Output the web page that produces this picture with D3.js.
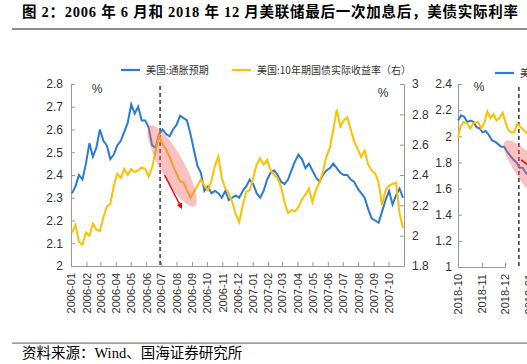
<!DOCTYPE html>
<html>
<head>
<meta charset="utf-8">
<script src="https://cdn.jsdelivr.net/npm/d3@7"></script>
<style>
body { margin: 0; background: #fff; }
svg { display: block; }
</style>
</head>
<body>
<svg width="527" height="364"></svg>
<script>
// ---- data: 2006 episode (weekly readings) ----
const start06 = "2006-01-03";
const inflExp06 = [
  2.32,2.35,2.40,2.38,2.45,2.54,2.48,2.52,2.60,2.55,
  2.53,2.47,2.49,2.53,2.55,2.59,2.63,2.71,2.67,2.70,
  2.64,2.64,2.61,2.53,2.52,2.58,2.60,2.58,2.57,2.60,
  2.62,2.66,2.65,2.64,2.58,2.51,2.44,2.41,2.33,2.35,
  2.32,2.33,2.32,2.30,2.33,2.29,2.30,2.31,2.30,2.33,
  2.35,2.38,2.36,2.32,2.30,2.33,2.38,2.41,2.42,2.40,
  2.37,2.36,2.38,2.42,2.46,2.49,2.47,2.43,2.45,2.42,
  2.39,2.37,2.40,2.42,2.43,2.45,2.43,2.41,2.40,2.40,
  2.38,2.37,2.34,2.32,2.30,2.25,2.21,2.20,2.19,2.24,
  2.29,2.33,2.27,2.31,2.34,2.30
];
const realYield06 = [
  2.02,2.07,1.96,1.94,2.02,2.00,2.08,2.04,2.03,2.12,
  2.19,2.21,2.33,2.41,2.38,2.44,2.40,2.44,2.42,2.43,
  2.45,2.44,2.39,2.45,2.56,2.66,2.60,2.57,2.52,2.46,
  2.41,2.36,2.35,2.30,2.25,2.29,2.33,2.37,2.33,2.30,
  2.36,2.46,2.52,2.38,2.31,2.28,2.22,2.14,2.09,2.20,
  2.29,2.30,2.38,2.47,2.51,2.47,2.50,2.43,2.40,2.38,
  2.32,2.22,2.15,2.17,2.16,2.19,2.24,2.27,2.31,2.22,
  2.30,2.35,2.42,2.52,2.58,2.70,2.83,2.72,2.76,2.78,
  2.70,2.62,2.57,2.52,2.56,2.47,2.43,2.41,2.35,2.20,
  2.30,2.33,2.34,2.35,2.15,2.05
];
const months06 = ["2006-01","2006-02","2006-03","2006-04","2006-05","2006-06","2006-07","2006-08",
  "2006-09","2006-10","2006-11","2006-12","2007-01","2007-02","2007-03","2007-04","2007-05",
  "2007-06","2007-07","2007-08","2007-09","2007-10"];
const leftTicks06 = [2, 2.1, 2.2, 2.3, 2.4, 2.5, 2.6, 2.7, 2.8];
const rightTicks06 = [1.8, 2, 2.2, 2.4, 2.6, 2.8, 3];
const lastHike06 = "2006-06-29";

// ---- data: 2018 episode ----
const infDates18 = ["2018-10-01","2018-10-05","2018-10-09","2018-10-13","2018-10-17","2018-10-21",
  "2018-10-25","2018-10-29","2018-11-02","2018-11-06","2018-11-10","2018-11-14","2018-11-18",
  "2018-11-22","2018-11-26","2018-11-30","2018-12-04","2018-12-08","2018-12-12","2018-12-16",
  "2018-12-20","2018-12-24","2018-12-28","2019-01-01","2019-01-05"];
const inflExp18 = [2.12,2.16,2.15,2.11,2.12,2.11,2.07,2.06,2.03,2.04,2.01,1.97,1.96,
  1.94,1.92,1.92,1.88,1.85,1.82,1.80,1.76,1.76,1.72,1.70,1.68];
const realDates18 = ["2018-10-01","2018-10-04","2018-10-08","2018-10-13","2018-10-17","2018-10-21",
  "2018-10-27","2018-10-31","2018-11-04","2018-11-08","2018-11-12","2018-11-16","2018-11-20",
  "2018-11-24","2018-11-28","2018-12-01","2018-12-05","2018-12-09","2018-12-13","2018-12-17",
  "2018-12-21","2018-12-25","2018-12-30","2019-01-03"];
const realYield18 = [0.99,1.07,1.11,1.10,1.06,1.10,1.11,1.06,1.10,1.19,1.14,1.17,1.12,
  1.14,1.18,1.12,1.05,1.03,1.03,1.10,1.07,1.05,1.02,0.99];
const months18 = ["2018-10","2018-11","2018-12","2019-01"];
const leftTicks18 = [1, 1.2, 1.4, 1.6, 1.8, 2, 2.2, 2.4];
const lastHike18 = "2018-12-19";

const legendNames = ["美国:通胀预期", "美国:10年期国债实际收益率（右）"];

// ---- setup ----
const svg = d3.select("svg");
const parseD = d3.timeParse("%Y-%m-%d");
const parseM = d3.timeParse("%Y-%m");
const fmtM = d3.timeFormat("%Y-%m");
const blue = "#2a7ad6", gold = "#ffc000";
const sans = "'Liberation Sans', Arial, 'Noto Sans CJK SC', sans-serif";
const cjk = "'Noto Sans CJK SC', sans-serif";
const serif = "'Liberation Serif', 'Noto Sans CJK SC', serif";

const t0 = parseD(start06);
const series06 = (vals) => vals.map((v, i) => ({ date: d3.timeDay.offset(t0, 7 * i), v }));
const pairs = (ds, vs) => ds.map((d, i) => ({ date: parseD(d), v: vs[i] }));

// title and footer (title runs off the right edge, as in the source)
svg.append("text")
  .attr("x", 22).attr("y", 17)
  .attr("font-family", serif).attr("font-weight", "bold").attr("font-size", 14.5)
  .attr("textLength", 496).attr("lengthAdjust", "spacing")
  .attr("fill", "#000")
  .text("图 2：2006 年 6 月和 2018 年 12 月美联储最后一次加息后，美债实际利率");
svg.append("rect").attr("x", 12).attr("y", 28).attr("width", 515).attr("height", 2).attr("fill", "#8c8c8c");
svg.append("rect").attr("x", 12).attr("y", 342.5).attr("width", 515).attr("height", 1.2).attr("fill", "#777");
svg.append("text")
  .attr("x", 22).attr("y", 358)
  .attr("font-family", serif).attr("font-size", 14.5).attr("fill", "#000")
  .text("资料来源：Wind、国海证券研究所");

function styleAxis(g) {
  g.selectAll("path.domain").attr("stroke", "#999");
  g.selectAll(".tick line").attr("stroke", "#999");
  g.selectAll(".tick text").attr("fill", "#333").attr("font-family", sans).attr("font-size", 12);
}

function xAxis(x, months, y0) {
  const g = svg.append("g").attr("transform", `translate(0,${y0})`)
    .call(d3.axisBottom(x).tickValues(months.map(parseM)).tickFormat(fmtM).tickSize(-4).tickSizeOuter(0));
  styleAxis(g);
  g.selectAll(".tick text")
    .attr("font-size", 11)
    .attr("transform", "rotate(-90)")
    .attr("x", -7).attr("y", 0).attr("dy", "0.35em")
    .style("text-anchor", "end");
}

function legendItem(x, y, color, label) {
  svg.append("line").attr("x1", x).attr("x2", x + 19).attr("y1", y).attr("y2", y)
    .attr("stroke", color).attr("stroke-width", 2.2);
  svg.append("text").attr("x", x + 25).attr("y", y + 3.6)
    .attr("font-family", cjk).attr("font-size", 10).attr("fill", "#333").text(label);
}

// ---- chart 1: 2006-2007 ----
const x1 = d3.scaleTime().domain([parseM("2006-01"), parseM("2007-11")]).range([71, 404]);
const yL1 = d3.scaleLinear().domain([2, 2.8]).range([266, 84]);
const yR1 = d3.scaleLinear().domain([1.8, 3]).range([266, 84]);

let g = svg.append("g").attr("transform", "translate(71,0)")
  .call(d3.axisLeft(yL1).tickValues(leftTicks06).tickFormat(d3.format("")).tickSize(-4).tickSizeOuter(0).tickPadding(8));
styleAxis(g);
g = svg.append("g").attr("transform", "translate(404,0)")
  .call(d3.axisRight(yR1).tickValues(rightTicks06).tickFormat(d3.format("")).tickSize(-4).tickSizeOuter(0).tickPadding(8));
styleAxis(g);
xAxis(x1, months06, 266);

svg.append("line")
  .attr("x1", x1(parseD(lastHike06))).attr("x2", x1(parseD(lastHike06)))
  .attr("y1", 86).attr("y2", 266)
  .attr("stroke", "#444").attr("stroke-width", 1.6).attr("stroke-dasharray", "4,3");

svg.append("path").datum(series06(inflExp06))
  .attr("fill", "none").attr("stroke", blue).attr("stroke-width", 2)
  .attr("d", d3.line().x(d => x1(d.date)).y(d => yL1(d.v)));
svg.append("path").datum(series06(realYield06))
  .attr("fill", "none").attr("stroke", gold).attr("stroke-width", 2)
  .attr("d", d3.line().x(d => x1(d.date)).y(d => yR1(d.v)));

// highlight and arrow after the last hike
svg.append("ellipse")
  .attr("transform", `translate(${x1(parseD("2006-07-23"))},${yL1(2.44)}) rotate(61)`)
  .attr("rx", 46).attr("ry", 12)
  .attr("fill", "rgba(242,100,100,0.4)");

svg.append("defs").append("marker")
  .attr("id", "ah").attr("viewBox", "0 0 10 10").attr("refX", 8).attr("refY", 5)
  .attr("markerWidth", 4).attr("markerHeight", 4).attr("orient", "auto")
  .append("path").attr("d", "M0,0L10,5L0,10z").attr("fill", "#f00");
svg.append("line")
  .attr("x1", x1(parseD("2006-07-08"))).attr("y1", yL1(2.40))
  .attr("x2", x1(parseD("2006-08-11"))).attr("y2", yL1(2.255))
  .attr("stroke", "#f00").attr("stroke-width", 1.5).attr("marker-end", "url(#ah)");

svg.append("text").attr("x", 97).attr("y", 93).attr("text-anchor", "middle")
  .attr("font-family", sans).attr("font-size", 12).attr("fill", "#333").text("%");
svg.append("text").attr("x", 383).attr("y", 97).attr("text-anchor", "middle")
  .attr("font-family", sans).attr("font-size", 12).attr("fill", "#333").text("%");

legendItem(121, 70, blue, legendNames[0]);
legendItem(232, 70, gold, legendNames[1]);

// ---- chart 2: 2018-2019 (cut at the right edge) ----
const x2 = d3.scaleTime().domain([parseM("2018-10"), parseM("2018-12")]).range([458, 505]);
const yL2 = d3.scaleLinear().domain([1, 2.4]).range([267, 84]);
const yR2 = d3.scaleLinear().domain([0, 1.4]).range([267, 84]);

g = svg.append("g").attr("transform", "translate(458,0)")
  .call(d3.axisLeft(yL2).tickValues(leftTicks18).tickFormat(d3.format("")).tickSize(-4).tickSizeOuter(0).tickPadding(6));
styleAxis(g);
xAxis(x2, months18, 267);

svg.append("line")
  .attr("x1", x2(parseD(lastHike18))).attr("x2", x2(parseD(lastHike18)))
  .attr("y1", 87).attr("y2", 267)
  .attr("stroke", "#444").attr("stroke-width", 1.6).attr("stroke-dasharray", "4,3");

svg.append("path").datum(pairs(infDates18, inflExp18))
  .attr("fill", "none").attr("stroke", blue).attr("stroke-width", 2)
  .attr("d", d3.line().x(d => x2(d.date)).y(d => yL2(d.v)));
svg.append("path").datum(pairs(realDates18, realYield18))
  .attr("fill", "none").attr("stroke", gold).attr("stroke-width", 2)
  .attr("d", d3.line().x(d => x2(d.date)).y(d => yR2(d.v)));

svg.append("ellipse")
  .attr("transform", `translate(${x2(parseD("2019-01-20"))},${yL2(1.61)}) rotate(50)`)
  .attr("rx", 60).attr("ry", 14)
  .attr("fill", "rgba(242,100,100,0.4)");
svg.append("line")
  .attr("x1", x2(parseD("2018-12-22"))).attr("y1", yL2(1.82))
  .attr("x2", x2(parseD("2019-02-20"))).attr("y2", yL2(1.55))
  .attr("stroke", "#f00").attr("stroke-width", 1.5);

svg.append("text").attr("x", 479).attr("y", 91).attr("text-anchor", "middle")
  .attr("font-family", sans).attr("font-size", 12).attr("fill", "#333").text("%");
legendItem(495, 73, blue, legendNames[0]);
</script>
</body>
</html>
